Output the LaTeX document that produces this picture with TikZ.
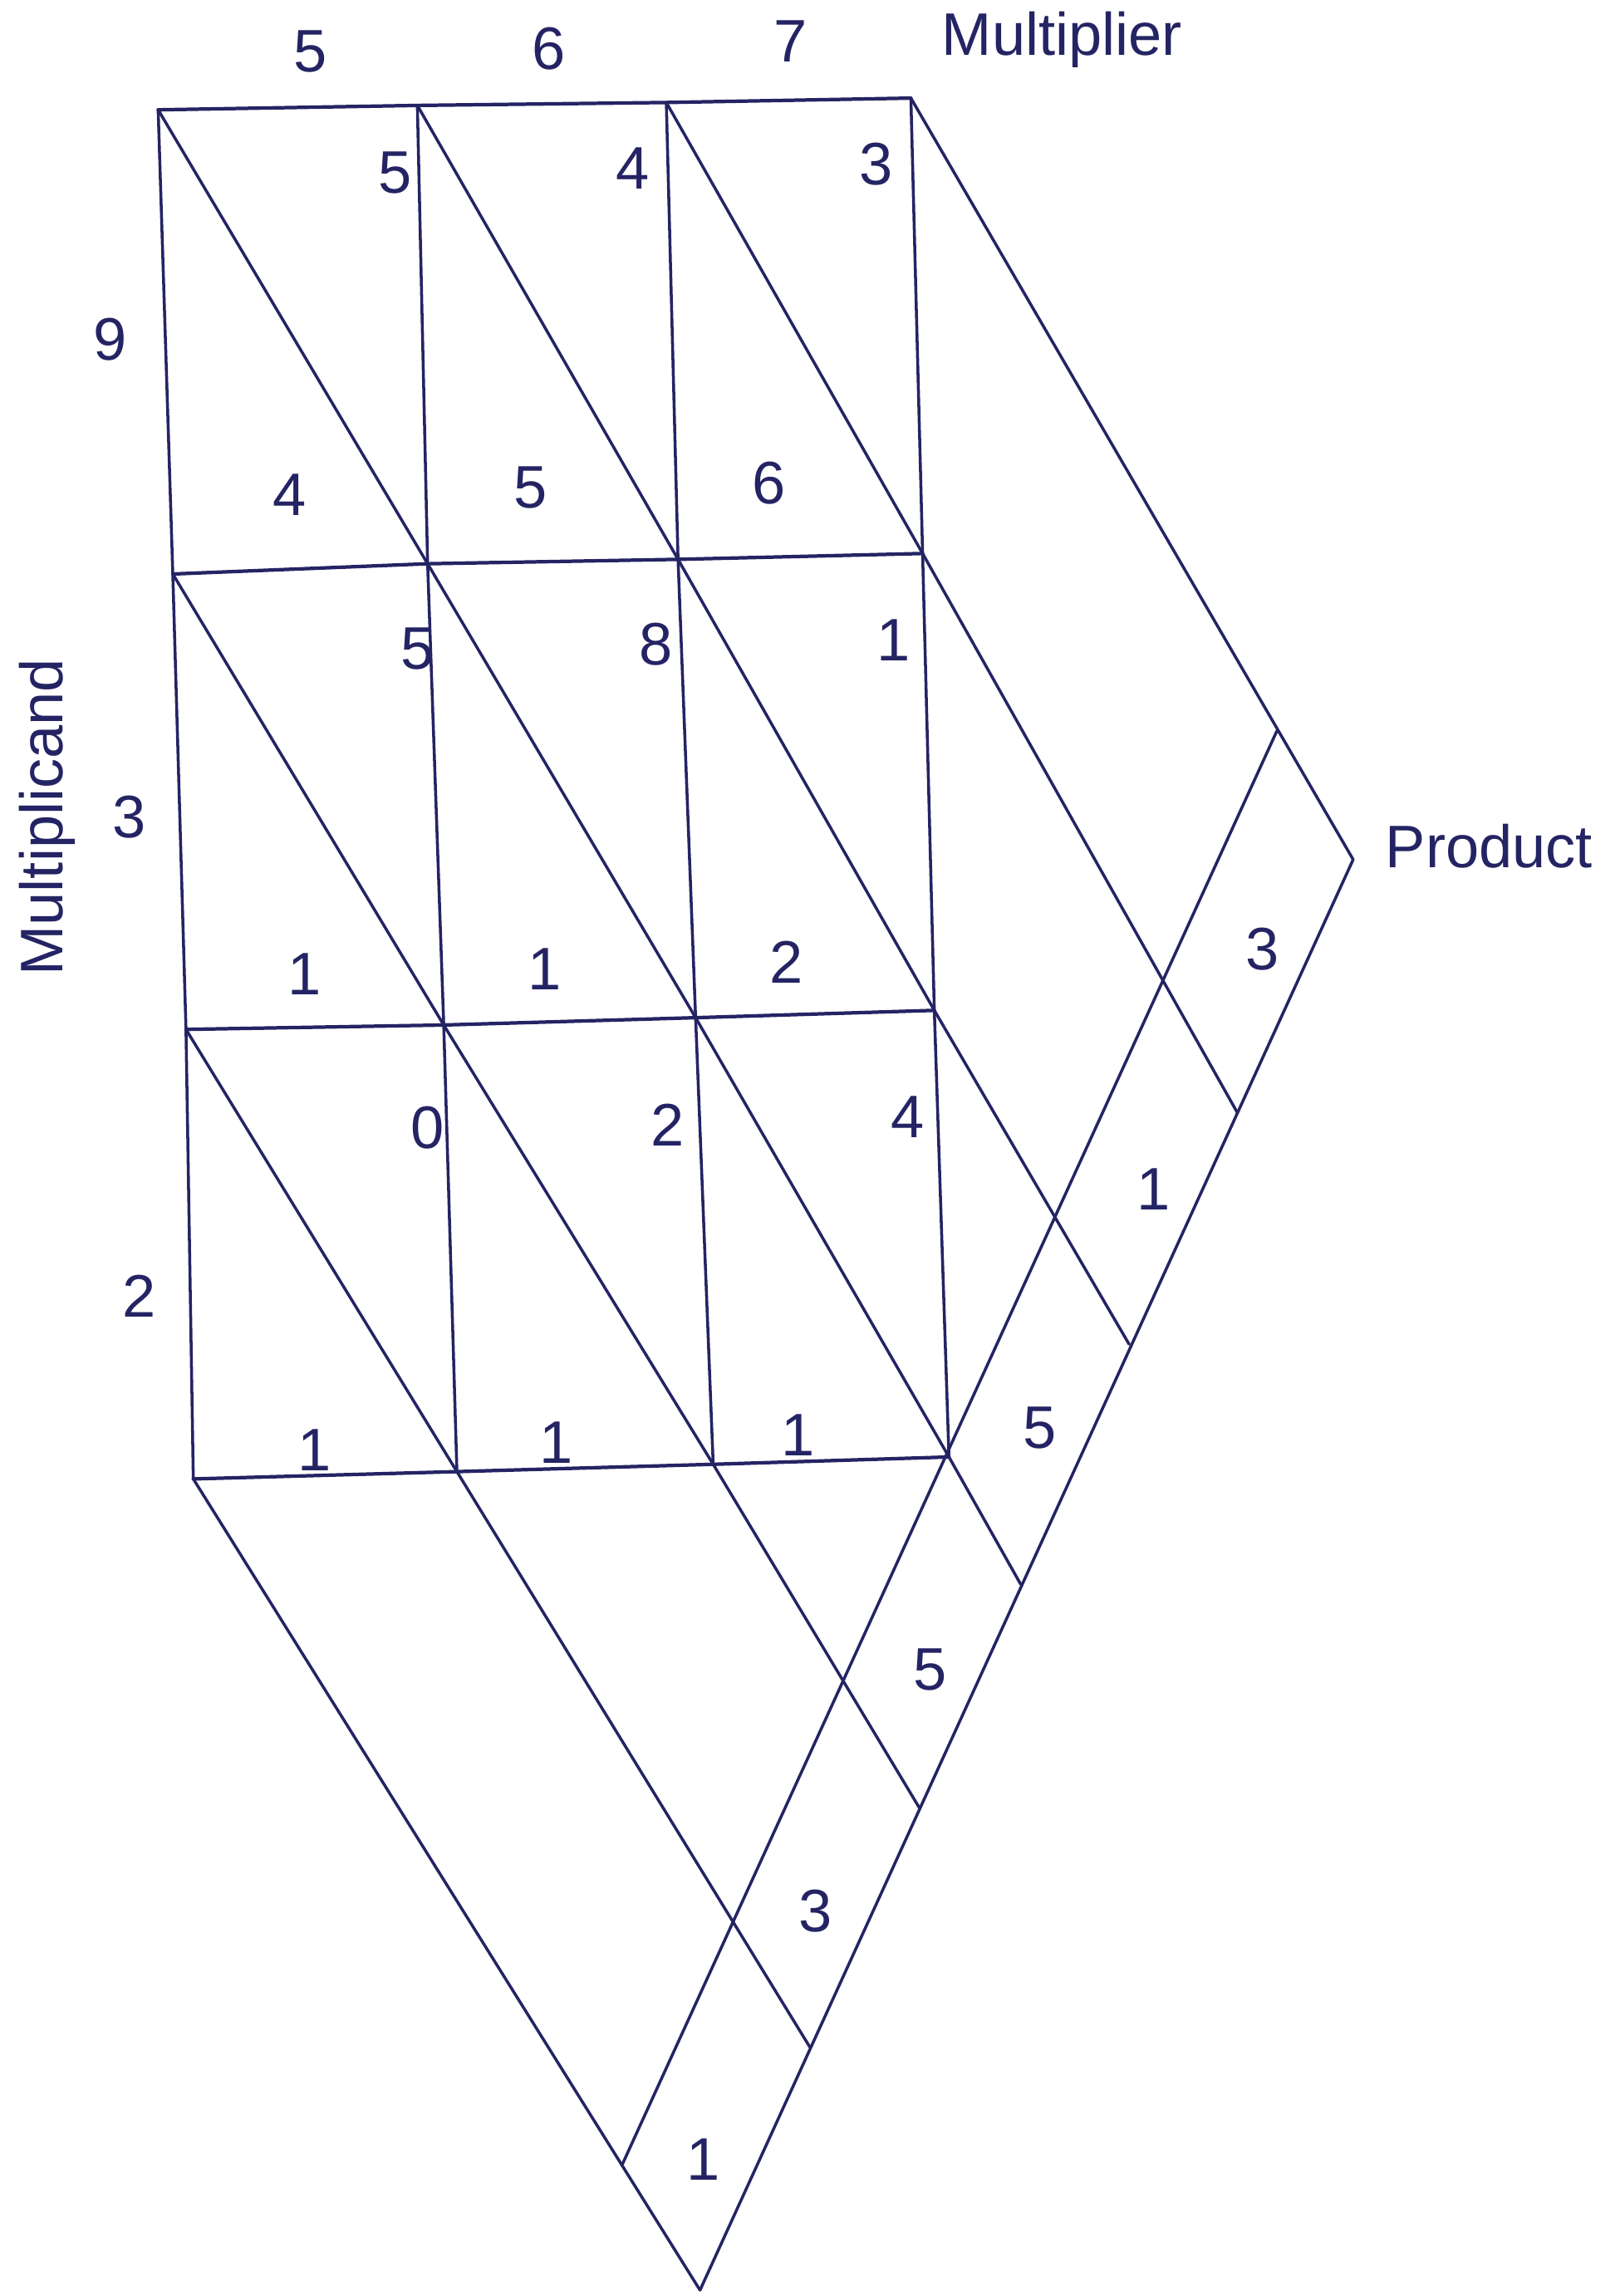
\documentclass[tikz,border=0pt]{standalone}
\usepackage{fontspec}
\setmainfont{Liberation Sans}
\definecolor{ink}{RGB}{36,36,100}
\begin{document}
\begin{tikzpicture}[x=1pt,y=-1pt,line join=round,line cap=round,
  ln/.style={draw=ink,line width=2.0pt},
  hl/.style={draw=ink,line width=2.4pt},
  lbl/.style={text=ink,font=\fontsize{41}{43}\selectfont,inner sep=0pt}]
\useasboundingbox (0,0) rectangle (1106,1568);
% grid corners
\coordinate (p00) at (108,75);  \coordinate (p01) at (285,72);  \coordinate (p02) at (455,70);  \coordinate (p03) at (622,67);
\coordinate (p10) at (118,392); \coordinate (p11) at (292,385); \coordinate (p12) at (463,382); \coordinate (p13) at (630,378);
\coordinate (p20) at (127,703); \coordinate (p21) at (303,700); \coordinate (p22) at (475,695); \coordinate (p23) at (638,690);
\coordinate (p30) at (132,1010);\coordinate (p31) at (312,1005);\coordinate (p32) at (487,1000);\coordinate (p33) at (648,995);
% strip
\coordinate (i0) at (872,499); \coordinate (i6) at (425,1478);
\coordinate (o0) at (924,587); \coordinate (o1) at (845,760); \coordinate (o2) at (771,918);
\coordinate (o3) at (697,1082); \coordinate (o4) at (628,1235); \coordinate (o5) at (553,1398);
\coordinate (o6) at (478,1564);
% horizontals
\draw[hl] (p00) -- (p01) -- (p02) -- (p03);
\draw[hl] (p10) -- (p11) -- (p12) -- (p13);
\draw[hl] (p20) -- (p21) -- (p22) -- (p23);
\draw[hl] (p30) -- (p31) -- (p32) -- (p33);
% verticals
\draw[ln] (p00) -- (p10) -- (p20) -- (p30);
\draw[ln] (p01) -- (p11) -- (p21) -- (p31);
\draw[ln] (p02) -- (p12) -- (p22) -- (p32);
\draw[ln] (p03) -- (p13) -- (p23) -- (p33);
% diagonals
\draw[ln] (p03) -- (o0);
\draw[ln] (p02) -- (p13) -- (o1);
\draw[ln] (p01) -- (p12) -- (p23) -- (o2);
\draw[ln] (p00) -- (p11) -- (p22) -- (p33) -- (o3);
\draw[ln] (p10) -- (p21) -- (p32) -- (o4);
\draw[ln] (p20) -- (p31) -- (o5);
\draw[ln] (p30) -- (o6);
% strip lines
\draw[ln] (i0) -- (i6);
\draw[ln] (o0) -- (o6);
% top labels
\node[lbl] (m5) at (212,35) {5};
\node[lbl] (m6) at (375,33) {6};
\node[lbl] (m7) at (540,28) {7};
\node[lbl,anchor=west] (mult) at (643,27) {Multiplier};
% left labels
\node[lbl] (c9) at (75,232) {9};
\node[lbl] (c3) at (88,558) {3};
\node[lbl] (c2) at (95,885) {2};
\node[lbl,rotate=90] (mcand) at (32,558) {Multiplicand};
\node[lbl,anchor=west] (prod) at (946,578) {Product};
% cell digits
\node[lbl] (a1) at (270,118) {5};
\node[lbl] (a2) at (432,115) {4};
\node[lbl] (a3) at (598,112) {3};
\node[lbl] (b1) at (198,338) {4};
\node[lbl] (b2) at (362,333) {5};
\node[lbl] (b3) at (525,330) {6};
\node[lbl] (a4) at (285,443) {5};
\node[lbl] (a5) at (448,440) {8};
\node[lbl] (a6) at (610,437) {1};
\node[lbl] (b4) at (208,665) {1};
\node[lbl] (b5) at (372,662) {1};
\node[lbl] (b6) at (537,657) {2};
\node[lbl] (a7) at (292,770) {0};
\node[lbl] (a8) at (456,768) {2};
\node[lbl] (a9) at (620,763) {4};
\node[lbl] (b7) at (215,990) {1};
\node[lbl] (b8) at (380,985) {1};
\node[lbl] (b9) at (545,980) {1};
% product digits
\node[lbl] (q1) at (862,648) {3};
\node[lbl] (q2) at (788,812) {1};
\node[lbl] (q3) at (710,975) {5};
\node[lbl] (q4) at (635,1140) {5};
\node[lbl] (q5) at (557,1305) {3};
\node[lbl] (q6) at (480,1475) {1};
\end{tikzpicture}
\end{document}
